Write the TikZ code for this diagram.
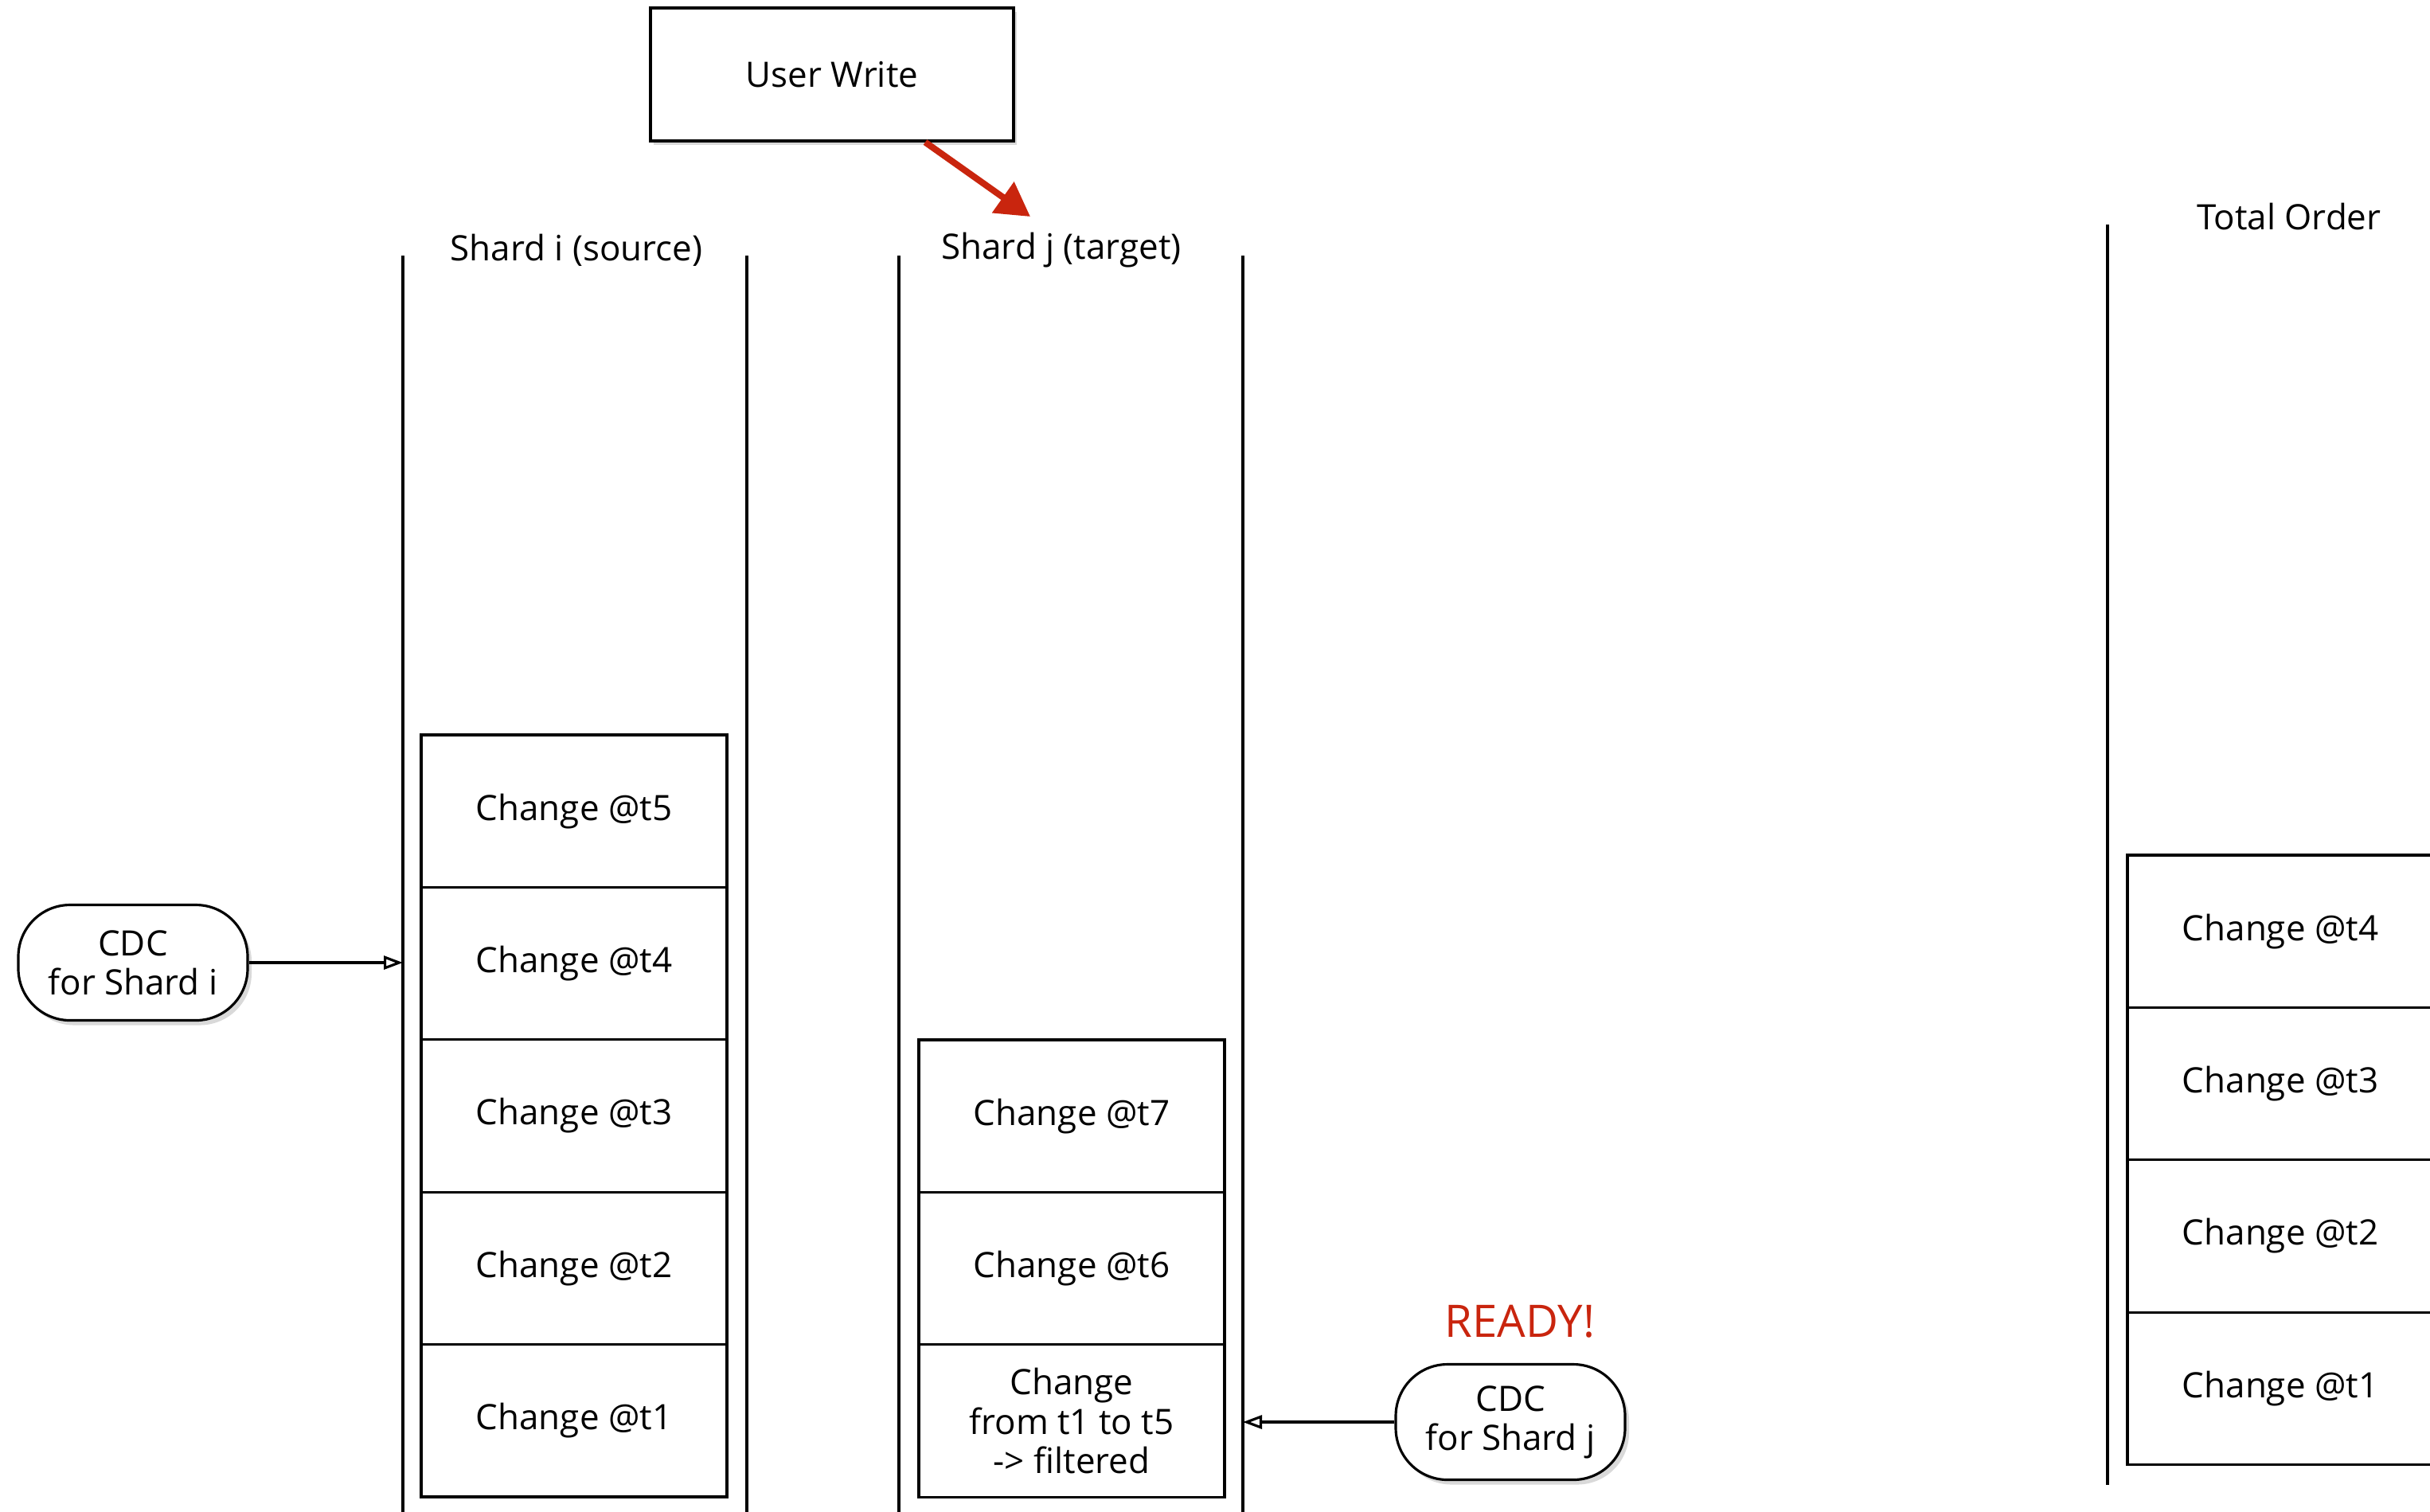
\documentclass[tikz,border=0pt]{standalone}
\usepackage{fontspec}
\setmainfont{Open Sans}
\usetikzlibrary{arrows.meta,positioning,shadows}

\definecolor{alert}{HTML}{C9250E}

\tikzset{
  change/.style={draw, line width=0.9pt, outer sep=0pt, inner sep=0pt,
    minimum width=3.84cm, minimum height=1.914cm, align=center},
  cdc/.style={draw, line width=0.9pt, fill=white, rounded corners=0.65cm,
    minimum width=2.88cm, minimum height=1.45cm, align=center,
    drop shadow={shadow xshift=0.05cm, shadow yshift=-0.06cm, opacity=0.3}},
  lane/.style={line width=0.9pt},
  feed/.style={line width=0.9pt, -{Triangle[open, length=0.24cm, width=0.17cm]}},
}

\begin{document}
\begin{tikzpicture}[font=\fontsize{12.5}{14}\selectfont]
	\useasboundingbox (0,0) rectangle (30.52,-18.98);
	\clip (0,0) rectangle (30.52,-18.98);

	% the write and where it lands
	\node[draw, line width=0.9pt, fill=white, minimum width=4.56cm, minimum height=1.67cm,
	  drop shadow={shadow xshift=0.04cm, shadow yshift=-0.05cm, opacity=0.3}] (write) at (10.45,-0.935) {User Write};
	\coordinate (jtop) at (12.94,-2.72);
	\draw[alert, line width=2.3pt, -{Triangle[length=0.42cm, width=0.46cm]}] ([xshift=1.17cm]write.south) -- (jtop);

	% shard lanes
	\node (ilabel) at (7.24,-3.14) {Shard i (source)};
	\node (jlabel) at (13.33,-3.14) {Shard j (target)};
	\node (tlabel) at (28.75,-2.72) {Total Order};
	\coordinate (ilane) at (5.06,-3.21);
	\coordinate (jlane) at (15.61,-3.21);
	\foreach \x in {5.06,9.38,11.29,15.61}
		\draw[lane] (\x,-3.21) -- (\x,-19.1);
	\draw[lane] (26.47,-2.82) -- (26.47,-18.65);

	% changes on shard i
	\node[change, anchor=north] (i5) at (7.21,-9.23) {Change @t5};
	\node[change, below=0pt of i5] (i4) {Change @t4};
	\node[change, below=0pt of i4] (i3) {Change @t3};
	\node[change, below=0pt of i3] (i2) {Change @t2};
	\node[change, below=0pt of i2] (i1) {Change @t1};

	% changes on shard j
	\node[change, anchor=north] (j7) at (13.46,-13.06) {Change @t7};
	\node[change, below=0pt of j7] (j6) {Change @t6};
	\node[change, below=0pt of j6] (jold) {Change\\from t1 to t5\\-> filtered};

	% merged stream
	\node[change, anchor=north] (t4) at (28.64,-10.74) {Change @t4};
	\node[change, below=0pt of t4] (t3) {Change @t3};
	\node[change, below=0pt of t3] (t2) {Change @t2};
	\node[change, below=0pt of t2] (t1) {Change @t1};

	% readers
	\node[cdc] (cdci) at (1.67,-12.09) {CDC\\for Shard i};
	\node[cdc] (cdcj) at (18.97,-17.86) {CDC\\for Shard j};
	\node[alert, font=\fontsize{16}{18}\selectfont] (ready) at (19.09,-16.6) {READY!};
	\draw[feed] (cdci.east) -- (cdci.east -| ilane);
	\draw[feed] (cdcj.west) -- (cdcj.west -| jlane);
\end{tikzpicture}
\end{document}
